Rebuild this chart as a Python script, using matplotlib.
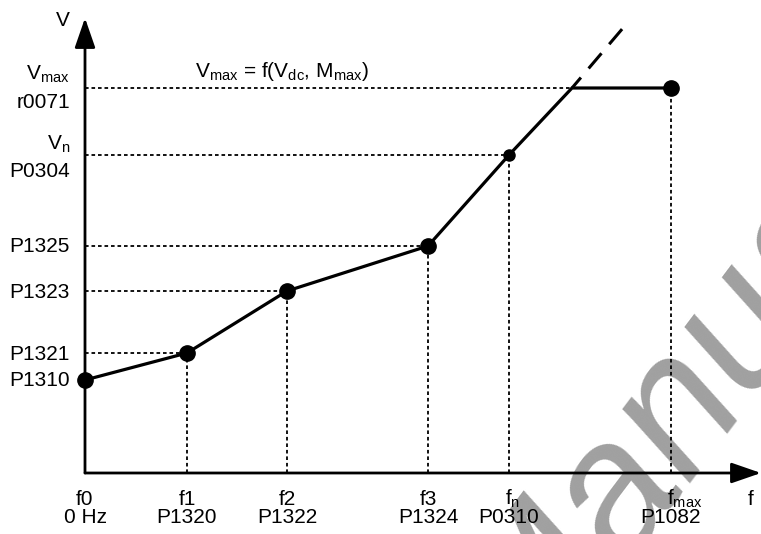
import matplotlib
matplotlib.use("Agg")
import matplotlib.pyplot as plt

plt.rcParams['font.family'] = ['Liberation Sans', 'DejaVu Sans']
plt.rcParams['mathtext.fontset'] = 'custom'
plt.rcParams['mathtext.rm'] = 'Liberation Sans'
plt.rcParams['mathtext.it'] = 'Liberation Sans'

# Characteristic points (arbitrary units, f on x, V on y)
f_pts = [0, 102, 202, 343, 424]
v_pts = [93, 120, 182, 227, 318]
v_max = 385
f_corner = 487
f_max = 586
f_ext, v_ext = 538, 445

f_labels = ['f0\n0 Hz', 'f1\nP1320', 'f2\nP1322', 'f3\nP1324',
            r'$\mathregular{f_n}$' + '\nP0310', r'$\mathregular{f_{max}}$' + '\nP1082']
f_label_pos = f_pts + [f_max]
v_labels = ['P1310', 'P1321', 'P1323', 'P1325']

fs = 15
fig = plt.figure(figsize=(7.61, 5.34), dpi=100)
ax = fig.add_axes([0, 0, 1, 1])
ax.set_xlim(-85, 676)
ax.set_ylim(-61, 473)
ax.axis('off')

# watermark
ax.text(446, -214, 'Manual', rotation=53, rotation_mode='anchor', ha='left', va='baseline',
        fontsize=134, style='italic', color='#a0a0a0', zorder=0, clip_on=True)

# axes with arrows
ax.annotate('', xy=(676, 0), xytext=(0, 0),
            arrowprops=dict(arrowstyle='-|>,head_length=1.3,head_width=0.45', lw=2, color='black',
                            shrinkA=0, shrinkB=0, mutation_scale=14))
ax.annotate('', xy=(0, 455), xytext=(0, 0),
            arrowprops=dict(arrowstyle='-|>,head_length=1.3,head_width=0.45', lw=2, color='black',
                            shrinkA=0, shrinkB=0, mutation_scale=14))

dot = dict(color='black', lw=1.3, linestyle=(0, (2, 1.6)), zorder=2)

# horizontal guide lines
for f, v in zip(f_pts[1:], v_pts[1:]):
    ax.plot([0, f], [v, v], **dot)
ax.plot([0, f_corner], [v_max, v_max], **dot)
# vertical guide lines
for f, v in zip(f_pts[1:], v_pts[1:]):
    ax.plot([f, f], [0, v], **dot)
ax.plot([f_max, f_max], [0, v_max], **dot)

# characteristic
ax.plot(f_pts + [f_corner, f_max], v_pts + [v_max, v_max], color='black', lw=2.3,
        solid_capstyle='round', zorder=3)
ax.plot([f_corner, f_ext], [v_max, v_ext], color='black', lw=2.2,
        linestyle=(2, (6.5, 3.9)), zorder=3)
ax.plot(f_pts[:4] + [f_max], v_pts[:4] + [v_max], 'o', color='black', ms=11, zorder=4)
ax.plot(f_pts[4], v_pts[4], 'o', color='black', ms=8, zorder=4)

# y labels
for lab, v in zip(v_labels, v_pts[:4]):
    ax.text(-15, v - 6.5, lab, ha='right', va='baseline', fontsize=fs)
ax.text(-15, v_max + 8, r'$\mathregular{V_{max}}$', ha='right', va='baseline', fontsize=fs)
ax.text(-15, v_max - 20, 'r0071', ha='right', va='baseline', fontsize=fs)
ax.text(-15, v_pts[4] + 5, r'$\mathregular{V_n}$', ha='right', va='baseline', fontsize=fs)
ax.text(-15, v_pts[4] - 22, 'P0304', ha='right', va='baseline', fontsize=fs)
ax.text(-22, 447, 'V', ha='center', va='baseline', fontsize=fs)

ax.text(110, v_max + 11, r'$\mathregular{V_{max}}$ = f($\mathregular{V_{dc}}$, $\mathregular{M_{max}}$)',
        ha='left', va='baseline', fontsize=fs)

# x labels
for lab, f in zip(f_labels, f_label_pos):
    top, bottom = lab.split('\n')
    if top.startswith('$'):
        ax.text(f - 4, -32, top, ha='left', va='baseline', fontsize=fs)
    else:
        ax.text(f, -32, top, ha='center', va='baseline', fontsize=fs)
    ax.text(f, -50, bottom, ha='center', va='baseline', fontsize=fs)
ax.text(666, -32, 'f', ha='center', va='baseline', fontsize=fs)

fig.savefig('out.png', dpi=100)
